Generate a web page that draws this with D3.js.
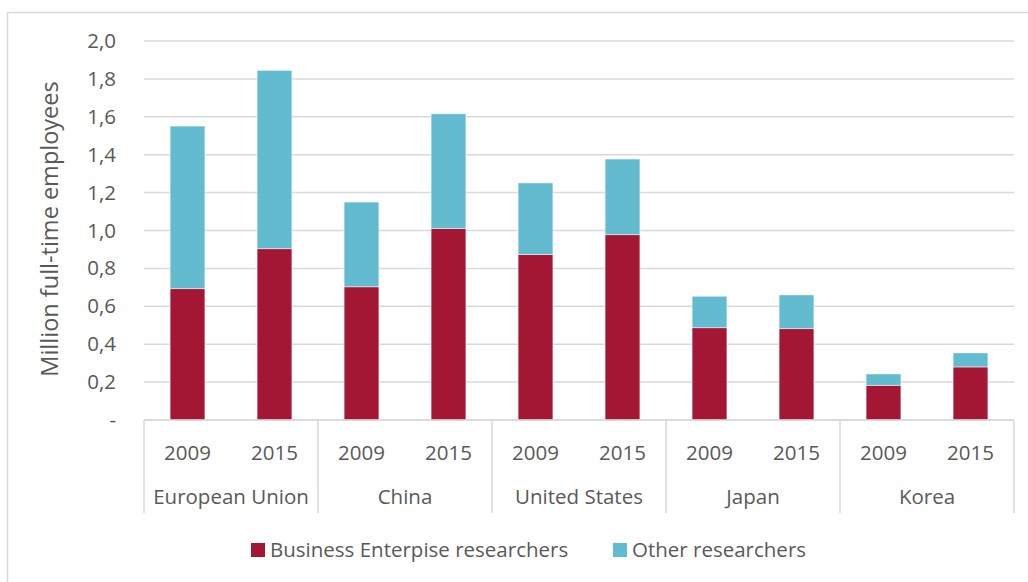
<!DOCTYPE html>
<html>
<head>
<meta charset="utf-8">
<script src="https://cdn.jsdelivr.net/npm/d3@7"></script>
<style>
  html, body { margin: 0; padding: 0; background: #fff; }
  svg text { font-family: "Open Sans", "Noto Sans", sans-serif; fill: #595959; }
</style>
</head>
<body>
<svg id="chart" width="1028" height="582"></svg>
<script>
// Regions and survey years
const regions = ["European Union", "China", "United States", "Japan", "Korea"];
const years = ["2009", "2015"];

// Million full-time researchers, per region in year order
const business = [0.693, 0.904, 0.703, 1.011, 0.873, 0.978, 0.487, 0.482, 0.183, 0.280];
const other    = [0.858, 0.941, 0.447, 0.605, 0.378, 0.399, 0.166, 0.178, 0.060, 0.074];

const seriesNames = ["Business Enterpise researchers", "Other researchers"];
const seriesColors = ["#A31735", "#62BBCF"];
const yTicks = [0, 0.2, 0.4, 0.6, 0.8, 1.0, 1.2, 1.4, 1.6, 1.8, 2.0];

const rows = [];
regions.forEach((r, i) => years.forEach((y, j) => {
  const k = i * years.length + j;
  rows.push({ region: r, year: y, business: business[k], other: other[k] });
}));

const svg = d3.select("#chart");
const plot = { left: 144, right: 1014, top: 41, bottom: 420 };
const fs = "20.5px";

// Outer frame
svg.append("path")
  .attr("d", "M7.5,1000 V12.5 H1100")
  .attr("fill", "none").attr("stroke", "#d9d9d9").attr("stroke-width", 1.5);

const x0 = d3.scaleBand().domain(regions).range([plot.left, plot.right]).padding(0);
const x1 = d3.scaleBand().domain(years).range([0, x0.bandwidth()]).paddingInner(0.6).paddingOuter(0.3);
const y = d3.scaleLinear().domain([0, 2]).range([plot.bottom, plot.top]);

// Gridlines
svg.append("g").selectAll("line").data(yTicks).join("line")
  .attr("x1", plot.left).attr("x2", plot.right)
  .attr("y1", d => y(d)).attr("y2", d => y(d))
  .attr("stroke", "#d9d9d9").attr("stroke-width", 1.5);

// Y axis labels
const yAxis = d3.axisLeft(y).tickValues(yTicks).tickSize(0).tickPadding(28)
  .tickFormat(d => d === 0 ? "-" : d3.format(".1f")(d).replace(".", ","));
const gy = svg.append("g").attr("transform", `translate(${plot.left},0)`).call(yAxis);
gy.select(".domain").remove();
gy.selectAll("text").style("font-size", fs).attr("fill", "#595959");

// Axis title
svg.append("text")
  .attr("transform", `translate(58,229) rotate(-90)`)
  .attr("text-anchor", "middle")
  .style("font-size", "23.5px")
  .text("Million full-time employees");

// Stacked bars
const stack = d3.stack().keys(["business", "other"]);
const layers = stack(rows);
svg.append("g").selectAll("g").data(layers).join("g")
  .attr("fill", (d, i) => seriesColors[i])
  .selectAll("rect").data(d => d).join("rect")
  .attr("x", d => x0(d.data.region) + x1(d.data.year))
  .attr("width", x1.bandwidth())
  .attr("y", d => y(d[1]))
  .attr("height", d => y(d[0]) - y(d[1]))
  .attr("stroke", "rgba(255,255,255,0.6)").attr("stroke-width", 0.8);

// Category axis: baseline, separators, years and regions
const gx = svg.append("g");
gx.append("line")
  .attr("x1", plot.left).attr("x2", plot.right)
  .attr("y1", plot.bottom).attr("y2", plot.bottom)
  .attr("stroke", "#d9d9d9").attr("stroke-width", 1.5);
const seps = regions.map(r => x0(r)).concat([plot.right]);
gx.selectAll("line.sep").data(seps).join("line").attr("class", "sep")
  .attr("x1", d => d).attr("x2", d => d)
  .attr("y1", plot.bottom).attr("y2", 513)
  .attr("stroke", "#d9d9d9").attr("stroke-width", 1.5);
gx.selectAll("text.year").data(rows).join("text").attr("class", "year")
  .attr("x", d => x0(d.region) + x1(d.year) + x1.bandwidth() / 2)
  .attr("y", 460)
  .attr("text-anchor", "middle")
  .style("font-size", fs)
  .text(d => d.year);
gx.selectAll("text.region").data(regions).join("text").attr("class", "region")
  .attr("x", d => x0(d) + x0.bandwidth() / 2)
  .attr("y", 504)
  .attr("text-anchor", "middle")
  .style("font-size", fs)
  .text(d => d);

// Legend
const legendX = [251, 613];
const lg = svg.append("g").selectAll("g").data(seriesNames).join("g")
  .attr("transform", (d, i) => `translate(${legendX[i]},543)`);
lg.append("rect").attr("width", 14).attr("height", 14).attr("fill", (d, i) => seriesColors[i]);
lg.append("text").attr("x", 19).attr("y", 14).style("font-size", fs).text(d => d);
</script>
</body>
</html>
